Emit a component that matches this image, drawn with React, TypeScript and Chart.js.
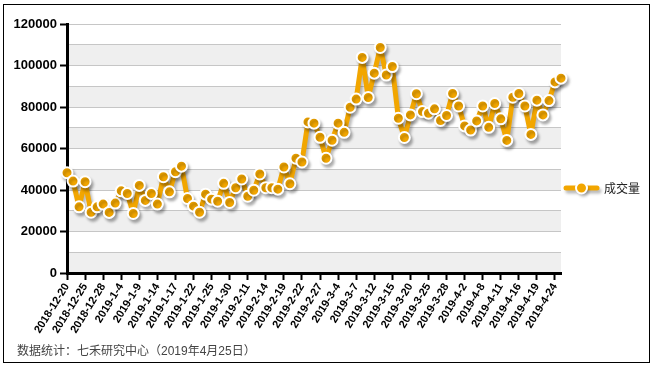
import React, { useEffect, useRef } from "react";
import { Chart, registerables } from "chart.js";

Chart.register(...registerables);

const dates: string[] = [
  "2018-12-20", "2018-12-21", "2018-12-24",
  "2018-12-25", "2018-12-26", "2018-12-27",
  "2018-12-28", "2019-1-2", "2019-1-3",
  "2019-1-4", "2019-1-7", "2019-1-8",
  "2019-1-9", "2019-1-10", "2019-1-11",
  "2019-1-14", "2019-1-15", "2019-1-16",
  "2019-1-17", "2019-1-18", "2019-1-21",
  "2019-1-22", "2019-1-23", "2019-1-24",
  "2019-1-25", "2019-1-28", "2019-1-29",
  "2019-1-30", "2019-1-31", "2019-2-1",
  "2019-2-11", "2019-2-12", "2019-2-13",
  "2019-2-14", "2019-2-15", "2019-2-18",
  "2019-2-19", "2019-2-20", "2019-2-21",
  "2019-2-22", "2019-2-25", "2019-2-26",
  "2019-2-27", "2019-2-28", "2019-3-1",
  "2019-3-4", "2019-3-5", "2019-3-6",
  "2019-3-7", "2019-3-8", "2019-3-11",
  "2019-3-12", "2019-3-13", "2019-3-14",
  "2019-3-15", "2019-3-18", "2019-3-19",
  "2019-3-20", "2019-3-21", "2019-3-22",
  "2019-3-25", "2019-3-26", "2019-3-27",
  "2019-3-28", "2019-3-29", "2019-4-1",
  "2019-4-2", "2019-4-3", "2019-4-4",
  "2019-4-8", "2019-4-9", "2019-4-10",
  "2019-4-11", "2019-4-12", "2019-4-15",
  "2019-4-16", "2019-4-17", "2019-4-18",
  "2019-4-19", "2019-4-22", "2019-4-23",
  "2019-4-24", "2019-4-25",
];

const volume: number[] = [
  48300, 44300, 31900, 44000, 29300, 31900, 33200, 29200, 33700, 39600,
  38300, 28700, 42200, 35000, 38300, 33200, 46400, 39100, 48800, 51500,
  35900, 32200, 29300, 38000, 35600, 34600, 43200, 34000, 41100, 45300,
  37000, 39900, 47700, 41100, 41100, 40400, 51100, 43000, 55300, 53500,
  72800, 72200, 65400, 55300, 64000, 72200, 67800, 79900, 83800, 103900,
  84600, 96300, 108700, 95400, 99500, 74600, 65300, 76200, 86400, 77800,
  77000, 79100, 73500, 75900, 86500, 80500, 70900, 68900, 73300, 80500,
  70200, 81700, 74300, 63900, 84700, 86500, 80500, 66800, 83300, 76200,
  83100, 92100, 93900,
];

const seriesName = "成交量";
const footerText = "数据统计：七禾研究中心（2019年4月25日）";
const yMax = 120000;
const yStep = 10000;
const labelEvery = 3;

const ORANGE = "#F2A600";

const bandsPlugin = {
  id: "bands",
  beforeDraw(chart: any) {
    const { ctx, chartArea, scales } = chart;
    const y = scales.y;
    ctx.save();
    ctx.fillStyle = "#EFEFEF";
    for (let v = 0; v < yMax; v += 2 * yStep) {
      const top = y.getPixelForValue(v + yStep);
      const bottom = y.getPixelForValue(v);
      ctx.fillRect(chartArea.left, top, chartArea.right - chartArea.left, bottom - top);
    }
    ctx.restore();
  },
};

const shadowPlugin = {
  id: "shadow",
  beforeDatasetsDraw(chart: any) {
    const ctx = chart.ctx;
    ctx.save();
    ctx.shadowColor = "rgba(0,0,0,0.28)";
    ctx.shadowBlur = 3;
    ctx.shadowOffsetX = 2;
    ctx.shadowOffsetY = 3;
  },
  afterDatasetsDraw(chart: any) {
    chart.ctx.restore();
  },
};

const legendPlugin = {
  id: "customLegend",
  afterDraw(chart: any) {
    const ctx = chart.ctx;
    const x0 = 566;
    const x1 = 597;
    const yc = 188;
    ctx.save();
    ctx.shadowColor = "rgba(0,0,0,0.28)";
    ctx.shadowBlur = 3;
    ctx.shadowOffsetX = 2;
    ctx.shadowOffsetY = 3;
    ctx.strokeStyle = ORANGE;
    ctx.lineWidth = 5;
    ctx.lineCap = "round";
    ctx.beginPath();
    ctx.moveTo(x0, yc);
    ctx.lineTo(x1, yc);
    ctx.stroke();
    ctx.beginPath();
    ctx.arc((x0 + x1) / 2, yc, 5.5, 0, Math.PI * 2);
    ctx.fillStyle = ORANGE;
    ctx.fill();
    ctx.shadowColor = "transparent";
    ctx.lineWidth = 2;
    ctx.strokeStyle = "#FFFFFF";
    ctx.stroke();
    ctx.restore();
    ctx.save();
    ctx.fillStyle = "#222";
    ctx.font = '12px "Noto Sans CJK SC", sans-serif';
    ctx.textBaseline = "middle";
    ctx.textAlign = "left";
    ctx.fillText(seriesName, 604, yc);
    ctx.restore();
  },
};

export default function App() {
  const canvasRef = useRef<HTMLCanvasElement | null>(null);

  useEffect(() => {
    const canvas = canvasRef.current;
    if (!canvas) return;
    const chart = new Chart(canvas, {
      type: "line",
      data: {
        labels: dates,
        datasets: [
          {
            label: seriesName,
            data: volume,
            borderColor: ORANGE,
            borderWidth: 5,
            borderJoinStyle: "round",
            borderCapStyle: "round",
            backgroundColor: ORANGE,
            pointBackgroundColor: ORANGE,
            pointBorderColor: "#FFFFFF",
            pointBorderWidth: 2,
            pointRadius: 5.5,
            tension: 0,
            fill: false,
            clip: false as any,
          },
        ],
      },
      options: {
        responsive: false,
        animation: false,
        devicePixelRatio: 1,
        layout: { padding: { left: 0, top: 24, right: 94, bottom: 0 } },
        plugins: {
          legend: { display: false },
          tooltip: { enabled: false },
        },
        scales: {
          x: {
            type: "category",
            offset: false,
            afterFit(scale: any) {
              scale.height = 95;
            },
            border: { display: true, color: "#000", width: 3 },
            grid: {
              drawOnChartArea: false,
              drawTicks: true,
              tickLength: 7,
              tickWidth: 2,
              tickColor: (c: any) => (c.index % labelEvery === 0 ? "#000" : "rgba(0,0,0,0)"),
            },
            ticks: {
              autoSkip: false,
              minRotation: 58,
              maxRotation: 58,
              padding: 1,
              color: "#000",
              font: { family: '"Liberation Sans", Arial, sans-serif', size: 11, weight: "bold" },
              callback: (_v: any, i: number) => (i % labelEvery === 0 ? dates[i] : ""),
            },
          },
          y: {
            min: 0,
            max: yMax,
            afterFit(scale: any) {
              scale.width = 67;
            },
            border: { display: true, color: "#000", width: 3 },
            grid: {
              color: "#C6C6C6",
              lineWidth: 1,
              drawTicks: true,
              tickLength: 7,
              tickWidth: 2,
              tickColor: (c: any) =>
                c.tick && c.tick.value % (2 * yStep) === 0 ? "#000" : "rgba(0,0,0,0)",
            },
            ticks: {
              stepSize: yStep,
              padding: 3,
              color: "#000",
              font: { family: '"Liberation Sans", Arial, sans-serif', size: 13, weight: "bold" },
              callback: (v: any) => (Number(v) % (2 * yStep) === 0 ? String(v) : ""),
            },
          },
        },
      },
      plugins: [bandsPlugin, shadowPlugin, legendPlugin],
    });
    return () => chart.destroy();
  }, []);

  return (
    <div
      style={{
        position: "fixed",
        left: 0,
        top: 0,
        width: 655,
        height: 368,
        background: "#fff",
        overflow: "hidden",
      }}
    >
      <canvas
        ref={canvasRef}
        width={655}
        height={368}
        style={{ position: "absolute", left: 0, top: 0, width: 655, height: 368 }}
      />
      <div
        style={{
          position: "absolute",
          left: 3,
          top: 4,
          width: 647,
          height: 359,
          border: "1px solid #000",
          boxSizing: "border-box",
          pointerEvents: "none",
        }}
      />
      <div
        style={{
          position: "absolute",
          left: 17,
          top: 343,
          fontFamily: '"Liberation Sans", "Noto Sans CJK SC", sans-serif',
          fontSize: 12,
          color: "#444",
          whiteSpace: "nowrap",
          lineHeight: "16px",
        }}
      >
        {footerText}
      </div>
    </div>
  );
}
